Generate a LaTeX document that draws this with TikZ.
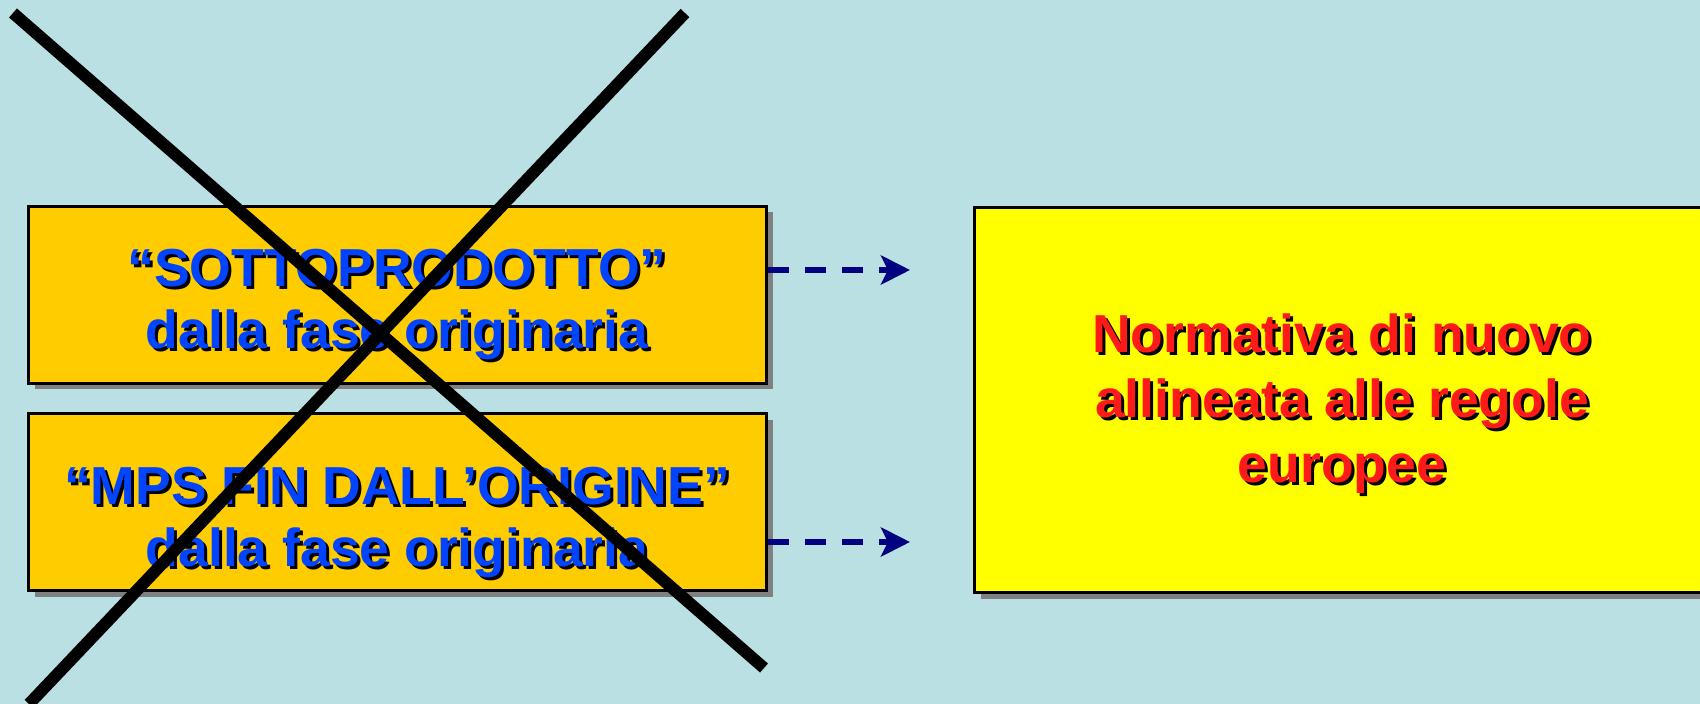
\documentclass[tikz,border=0pt]{standalone}
\usepackage{fontspec}
\setmainfont{Liberation Sans}
\usetikzlibrary{arrows.meta,shadows}
\definecolor{bgc}{HTML}{BBE0E3}
\definecolor{orangebox}{HTML}{FFCC00}
\definecolor{yellowbox}{HTML}{FFFF00}
\definecolor{bluetext}{HTML}{0044FF}
\definecolor{redtext}{HTML}{FF1A1A}
\definecolor{navyarrow}{HTML}{000080}
\definecolor{shadowgray}{HTML}{808080}
\tikzset{
  box/.style={draw=black, line width=3pt, inner sep=0pt,
    drop shadow={shadow xshift=6pt, shadow yshift=-6pt, fill=shadowgray, opacity=1}},
  boxtxt/.style={align=center, inner sep=0pt, font=\bfseries\fontsize{53.5}{62}\selectfont},
  bigtxt/.style={align=center, inner sep=0pt, font=\bfseries\fontsize{53.5}{65}\selectfont},
  dasharrow/.style={navyarrow, line width=6pt, dash pattern=on 21pt off 16pt,
    -{Stealth[length=29pt,width=29pt,inset=7pt]}},
  crossline/.style={black, line width=12pt}
}
\begin{document}
\begin{tikzpicture}[x=1pt,y=-1pt]
\fill[bgc] (0,0) rectangle (1700,704);
\useasboundingbox (0,0) rectangle (1700,704);
% boxes
\node[box, fill=orangebox, minimum width=738pt, minimum height=177pt] (b1) at (397.5,294.5) {};
\node[box, fill=orangebox, minimum width=738pt, minimum height=177pt] (b2) at (397.5,502) {};
\node[box, fill=yellowbox, minimum width=760pt, minimum height=385pt, anchor=north west] (b3) at (973,206) {};
% texts with shadows
\node[boxtxt, text=black] (t1s) at (400,307) {“SOTTOPRODOTTO”\\dalla fase originaria};
\node[boxtxt, text=bluetext] (t1) at (397,304) {“SOTTOPRODOTTO”\\dalla fase originaria};
\node[boxtxt, text=black] (t2s) at (400,525) {“MPS FIN DALL’ORIGINE”\\dalla fase originaria};
\node[boxtxt, text=bluetext] (t2) at (397,522) {“MPS FIN DALL’ORIGINE”\\dalla fase originaria};
\node[bigtxt, text=black] (t3s) at (1345,407) {Normativa di nuovo\\allineata alle regole\\europee};
\node[bigtxt, text=redtext] (t3) at (1342,404) {Normativa di nuovo\\allineata alle regole\\europee};
% arrows
\coordinate (e1) at (910,270);
\coordinate (e2) at (910,542);
\draw[dasharrow] ([yshift=24.5pt]b1.east) -- (e1);
\draw[dasharrow] ([yshift=-40pt]b2.east) -- (e2);
% cross
\coordinate (c1a) at (13,13);
\coordinate (c1b) at (764,668);
\coordinate (c2a) at (685,13);
\coordinate (c2b) at (29,704);
\draw[crossline] (c1a) -- (c1b);
\draw[crossline] (c2a) -- (c2b);
\end{tikzpicture}
\end{document}
